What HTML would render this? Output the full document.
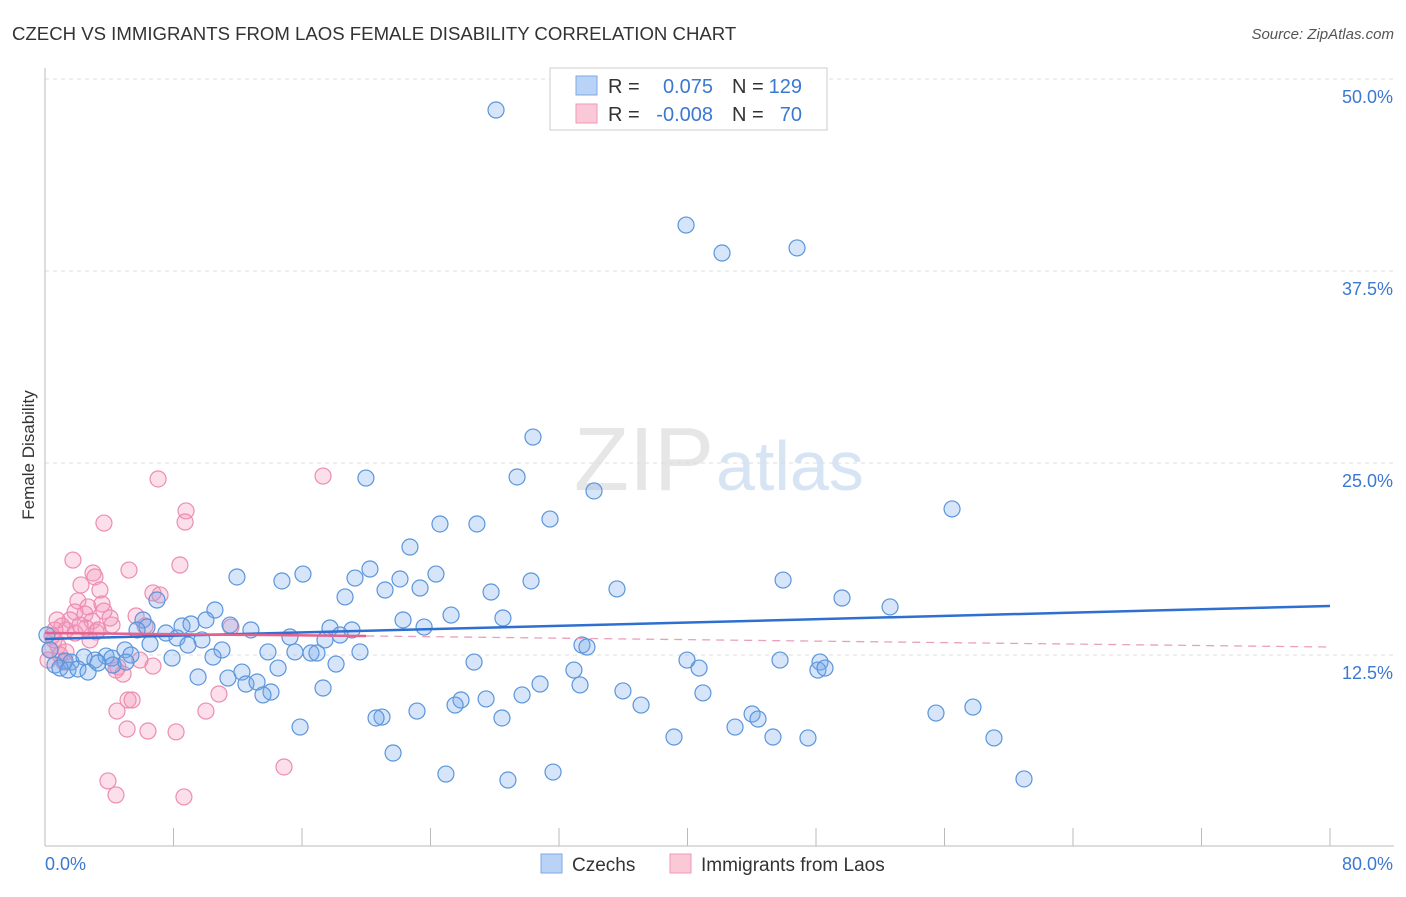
<!DOCTYPE html>
<html><head><meta charset="utf-8"><style>
body{margin:0;background:#fff;font-family:"Liberation Sans",sans-serif;}
svg text{font-family:"Liberation Sans",sans-serif;}
</style></head><body>
<svg id="chart" width="1406" height="892" xmlns="http://www.w3.org/2000/svg">
<text x="12" y="40" font-size="18.6" fill="#333">CZECH VS IMMIGRANTS FROM LAOS FEMALE DISABILITY CORRELATION CHART</text>
<text x="1394" y="39" font-size="15" fill="#555" text-anchor="end" font-style="italic">Source: ZipAtlas.com</text>
<text x="714" y="490" font-size="90" fill="#e6e6e6" text-anchor="end" font-family="Liberation Serif">ZIP</text>
<text x="716" y="490" font-size="70" fill="#d6e4f4">atlas</text>
<text transform="translate(34,455) rotate(-90)" font-size="17" fill="#333" text-anchor="middle">Female Disability</text>
<g id="grid"></g>
<g id="pts"></g>
<g id="trend"></g>
<g>
<rect x="550" y="68" width="277" height="62" fill="#fff" stroke="#ccc"/>
<rect x="576" y="76" width="21" height="19" fill="#b8d3f5" stroke="#7fa9e3"/>
<rect x="576" y="104" width="21" height="19" fill="#fbc8d8" stroke="#ef9ab6"/>
<text x="608" y="93" font-size="20" fill="#333">R =</text>
<text x="713" y="93" font-size="20" fill="#3b78d1" text-anchor="end">0.075</text>
<text x="732" y="93" font-size="20" fill="#333">N =</text>
<text x="802" y="93" font-size="20" fill="#3b78d1" text-anchor="end">129</text>
<text x="608" y="121" font-size="20" fill="#333">R =</text>
<text x="713" y="121" font-size="20" fill="#3b78d1" text-anchor="end">-0.008</text>
<text x="732" y="121" font-size="20" fill="#333">N =</text>
<text x="802" y="121" font-size="20" fill="#3b78d1" text-anchor="end">70</text>
</g>
<g>
<rect x="541" y="854" width="21" height="19" fill="#b8d3f5" stroke="#7fa9e3"/>
<text x="572" y="871" font-size="19" fill="#333">Czechs</text>
<rect x="670" y="854" width="21" height="19" fill="#fbc8d8" stroke="#ef9ab6"/>
<text x="701" y="871" font-size="19" fill="#333">Immigrants from Laos</text>
</g>
</svg>
<script>
const yTicks=[12.5,25,37.5,50];
const yTickLabels=["12.5%","25.0%","37.5%","50.0%"];
const xTickLabels=["0.0%","80.0%"];
const czechPx=[[496,110],[686,225],[722,253],[797,248],[533,437],[517,477],[366,478],[594,491],[952,509],[440,524],[477,524],[550,519],[410,547],[237,577],[282,581],[303,574],[355,578],[370,569],[400,579],[436,574],[531,581],[783,580],[385,590],[420,588],[491,592],[345,597],[617,589],[842,598],[890,607],[157,600],[215,610],[206,620],[451,615],[503,618],[403,620],[424,627],[143,620],[147,627],[182,626],[191,624],[230,625],[251,630],[330,628],[352,630],[137,630],[166,633],[177,638],[202,640],[290,637],[325,640],[340,635],[188,645],[150,644],[222,650],[268,652],[295,652],[311,653],[317,653],[360,652],[582,645],[587,647],[125,650],[131,655],[106,656],[112,658],[95,660],[84,657],[65,661],[71,662],[47,635],[50,650],[55,665],[60,668],[68,670],[78,669],[88,672],[98,663],[113,665],[126,662],[172,658],[213,657],[336,664],[474,662],[574,670],[687,660],[699,668],[780,660],[820,662],[818,670],[825,668],[198,677],[242,672],[228,678],[278,668],[246,684],[257,682],[271,692],[263,695],[323,688],[540,684],[522,695],[580,685],[623,691],[703,693],[461,700],[486,699],[455,705],[641,705],[417,711],[382,717],[376,718],[502,718],[752,714],[758,719],[936,713],[973,707],[300,727],[735,727],[674,737],[773,737],[808,738],[994,738],[393,753],[446,774],[508,780],[553,772],[1024,779]];
const laosPx=[[158,479],[323,476],[104,523],[186,511],[185,522],[73,560],[180,565],[93,573],[95,577],[129,570],[81,585],[100,590],[153,593],[160,595],[78,601],[88,607],[102,604],[75,612],[104,611],[85,614],[136,616],[70,620],[92,621],[112,625],[98,630],[62,626],[66,630],[75,633],[86,628],[145,626],[231,627],[96,632],[54,640],[58,646],[50,650],[60,655],[64,662],[48,660],[118,667],[153,666],[116,670],[123,674],[128,700],[219,694],[132,700],[117,711],[206,711],[127,729],[148,731],[176,732],[284,767],[108,781],[116,795],[184,797],[55,630],[52,636],[57,620],[66,652],[90,640],[110,618],[140,660],[80,625]];
// data values (x %, y %)
const czechX=czechPx.map(p=>+((p[0]-45)/16.0625).toFixed(2));
const czechY=czechPx.map(p=>+((847-p[1])/15.36).toFixed(2));
const laosX=laosPx.map(p=>+((p[0]-45)/16.0625).toFixed(2));
const laosY=laosPx.map(p=>+((847-p[1])/15.36).toFixed(2));
const czechTrend=[[0,13.54],[80,15.69]];
const laosTrend=[[0,13.93],[20,13.74],[80,13.02]];
const X=v=>45+v*16.0625, Y=v=>847-v*15.36;
const NS="http://www.w3.org/2000/svg";
function mk(tag,attrs,parent){const e=document.createElementNS(NS,tag);for(const k in attrs)e.setAttribute(k,attrs[k]);parent.appendChild(e);return e;}
const grid=document.getElementById('grid');
yTicks.forEach((t,i)=>{
 const l=mk('line',{x1:45,x2:1394,y1:Y(t),y2:Y(t),stroke:'#ddd','stroke-dasharray':'4,4'},grid);
 
 
 const tx=mk('text',{x:1393,y:Y(t)+24,'font-size':18,fill:'#3b78d1','text-anchor':'end'},grid);
 tx.textContent=yTickLabels[i];
 
 
});
const ax=mk('line',{x1:45,x2:1394,y1:846,y2:846,stroke:'#bbb'},grid);


const ay=mk('line',{x1:45,x2:45,y1:68,y2:846,stroke:'#bbb'},grid);


for(let i=1;i<=10;i++){const tk=mk('line',{x1:45+i*128.5,x2:45+i*128.5,y1:828,y2:846,stroke:'#bbb'},grid);
 
 }
[[0,'start',45],[1,'end',1393]].forEach(([i,a,x])=>{const t=mk('text',{x:x,y:870,'font-size':18,fill:'#3b78d1','text-anchor':a},grid);t.textContent=xTickLabels[i];
 
 });
const pts=document.getElementById('pts');
laosX.forEach((x,i)=>{const c=mk('circle',{cx:X(x),cy:Y(laosY[i]),r:8,fill:'rgba(244,150,185,0.3)',stroke:'#ec8db0','stroke-width':1.2},pts);
 
 });
czechX.forEach((x,i)=>{const c=mk('circle',{cx:X(x),cy:Y(czechY[i]),r:8,fill:'rgba(120,170,235,0.3)',stroke:'#5a95db','stroke-width':1.2},pts);
 
 });
const tr=document.getElementById('trend');
const b=mk('line',{x1:X(czechTrend[0][0]),y1:Y(czechTrend[0][1]),x2:X(czechTrend[1][0]),y2:Y(czechTrend[1][1]),stroke:'#2f6fd0','stroke-width':2.5},tr);


const p1=mk('line',{x1:X(laosTrend[0][0]),y1:Y(laosTrend[0][1]),x2:X(laosTrend[1][0]),y2:Y(laosTrend[1][1]),stroke:'#e4628f','stroke-width':2.5},tr);


const p2=mk('line',{x1:X(laosTrend[1][0]),y1:Y(laosTrend[1][1]),x2:X(laosTrend[2][0]),y2:Y(laosTrend[2][1]),stroke:'#eaa0ba','stroke-width':1.3,'stroke-dasharray':'8,6'},tr);


</script>
</body></html>
